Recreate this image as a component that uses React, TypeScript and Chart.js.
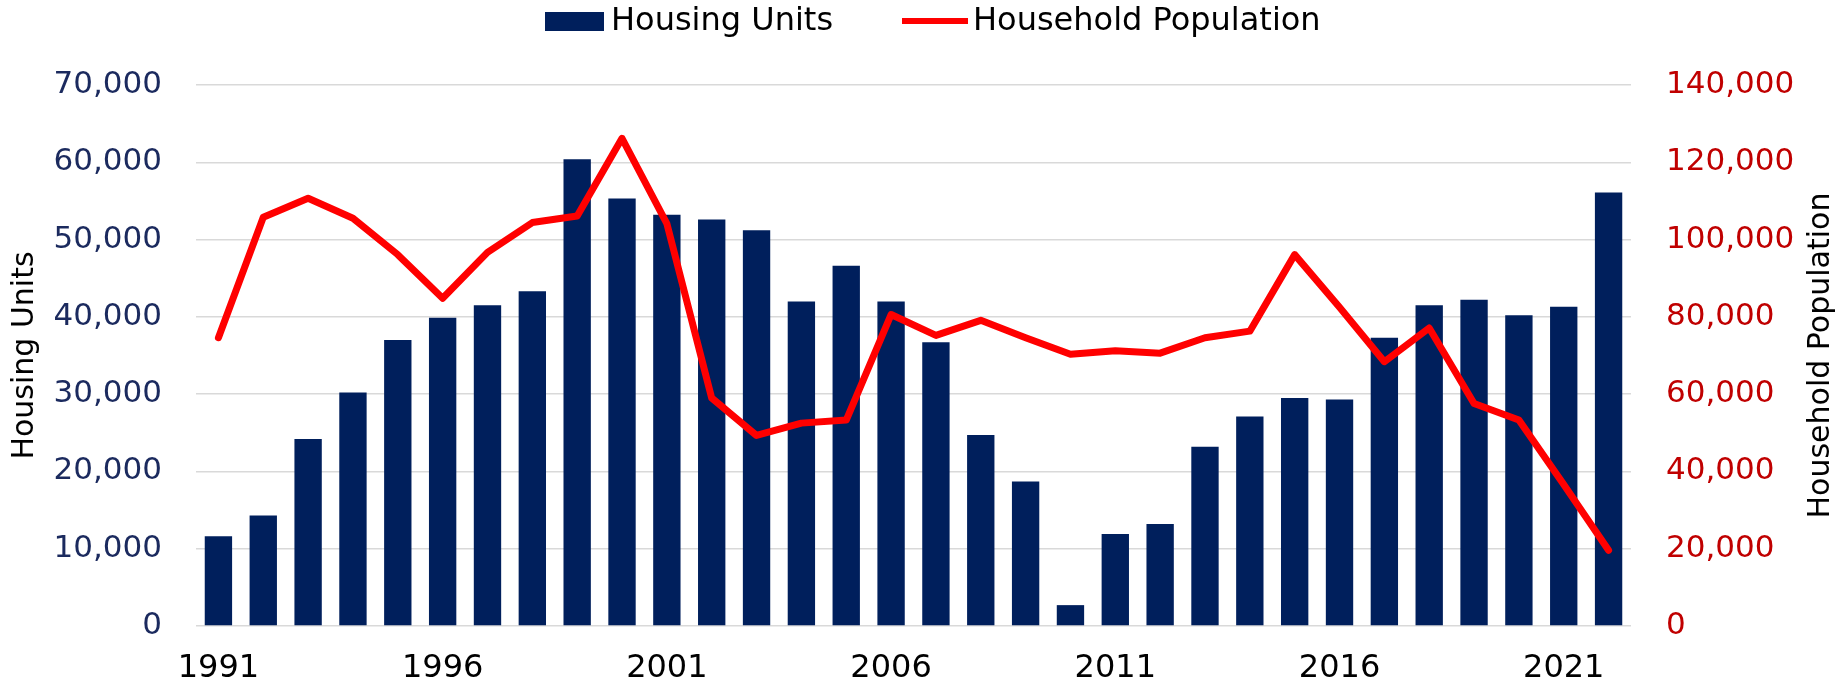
import React, { useEffect, useRef } from 'react';
import { Chart, registerables } from 'chart.js';

Chart.register(...registerables);

const years = [
  '1991', '1992', '1993', '1994', '1995', '1996', '1997', '1998', '1999', '2000',
  '2001', '2002', '2003', '2004', '2005', '2006', '2007', '2008', '2009', '2010',
  '2011', '2012', '2013', '2014', '2015', '2016', '2017', '2018', '2019', '2020',
  '2021', '2022',
];

const housingUnits = [
  11600, 14300, 24200, 30200, 37000, 39900, 41500, 43300, 60400, 55300,
  53200, 52600, 51200, 42000, 46600, 42000, 36700, 24700, 18700, 2700,
  11900, 13200, 23200, 27100, 29500, 29300, 37300, 41500, 42200, 40200,
  41300, 56100,
];

const householdPopulation = [
  74600, 105800, 110700, 105500, 96100, 84800, 96700, 104400, 106100, 126200,
  104100, 59000, 49300, 52500, 53300, 80600, 75200, 79100, 74600, 70300,
  71200, 70600, 74600, 76300, 96100, 82500, 68400, 77100, 57600, 53300,
  36600, 19600,
];

const xTickLabels = ['1991', '1996', '2001', '2006', '2011', '2016', '2021'];

const seriesNames = ['Housing Units', 'Household Population'];
const axisTitles = ['Housing Units', 'Household Population'];

const NAVY = '#001f5c';
const RED = '#ff0000';
const TICK_NAVY = '#1b2a5e';
const TICK_RED = '#c00000';
const FONT = "'DejaVu Sans', Verdana, sans-serif";

const fmt = (v: number) => Number(v).toLocaleString('en-US');

const customPlugin = {
  id: 'customLegendTitle',
  afterDraw(chart: any) {
    const ctx = chart.ctx as CanvasRenderingContext2D;
    const area = chart.chartArea;
    ctx.save();
    // legend
    ctx.font = `32px ${FONT}`;
    ctx.textBaseline = 'middle';
    ctx.textAlign = 'left';
    const ly = 22;
    ctx.fillStyle = NAVY;
    ctx.fillRect(545, 12, 59, 19);
    ctx.fillStyle = '#000000';
    ctx.fillText(seriesNames[0], 611, ly);
    ctx.strokeStyle = RED;
    ctx.lineWidth = 6;
    ctx.beginPath();
    ctx.moveTo(902, 21);
    ctx.lineTo(968, 21);
    ctx.stroke();
    ctx.fillText(seriesNames[1], 973, ly);
    // right axis title
    ctx.font = `30px ${FONT}`;
    ctx.textAlign = 'center';
    ctx.translate(1821, (area.top + area.bottom) / 2);
    ctx.rotate(-Math.PI / 2);
    ctx.fillText(axisTitles[1], 0, 0);
    ctx.restore();
  },
};

export default function App() {
  const ref = useRef<HTMLCanvasElement | null>(null);

  useEffect(() => {
    if (!ref.current) return;
    const chart = new Chart(ref.current, {
      type: 'bar',
      data: {
        labels: years,
        datasets: [
          {
            type: 'line',
            label: seriesNames[1],
            data: householdPopulation,
            yAxisID: 'y1',
            borderColor: RED,
            backgroundColor: RED,
            borderWidth: 7,
            pointRadius: 0,
            tension: 0,
            order: 0,
            borderJoinStyle: 'round',
            borderCapStyle: 'round',
          } as any,
          {
            type: 'bar',
            label: seriesNames[0],
            data: housingUnits,
            yAxisID: 'y',
            backgroundColor: NAVY,
            borderWidth: 0,
            barPercentage: 0.61,
            categoryPercentage: 1,
            order: 1,
          } as any,
        ],
      },
      options: {
        responsive: false,
        animation: false,
        devicePixelRatio: 1,
        layout: { padding: { top: 85, left: 0, right: 0, bottom: 0 } },
        plugins: {
          legend: { display: false },
          tooltip: { enabled: false },
        },
        scales: {
          x: {
            grid: { display: false, drawTicks: false },
            border: { display: false },
            ticks: {
              autoSkip: false,
              maxRotation: 0,
              padding: 23,
              color: '#000000',
              font: { family: FONT, size: 32 },
              callback: function (this: any, value: any) {
                const lab = years[value as number];
                return xTickLabels.includes(lab) ? lab : '';
              },
            },
            afterFit: (scale: any) => {
              scale.height = 61;
            },
          },
          y: {
            position: 'left',
            min: 0,
            max: 70000,
            grid: { color: '#d9d9d9', lineWidth: 1.5, drawTicks: false },
            border: { display: false },
            ticks: {
              stepSize: 10000,
              padding: 34,
              color: TICK_NAVY,
              font: { family: FONT, size: 31 },
              callback: (v: any) => fmt(v),
            },
            title: {
              display: true,
              text: axisTitles[0],
              color: '#000000',
              font: { family: FONT, size: 30 },
              padding: { top: 7, bottom: 0 },
            },
            afterFit: (scale: any) => {
              scale.width = 196;
            },
          },
          y1: {
            position: 'right',
            min: 0,
            max: 140000,
            grid: { display: false, drawTicks: false },
            border: { display: false },
            ticks: {
              stepSize: 20000,
              padding: 35,
              color: TICK_RED,
              font: { family: FONT, size: 31 },
              callback: (v: any) => fmt(v),
            },
            afterFit: (scale: any) => {
              scale.width = 214;
            },
          },
        },
      },
      plugins: [customPlugin],
    });
    return () => chart.destroy();
  }, []);

  return (
    <div style={{ position: 'fixed', left: 0, top: 0, width: 1845, height: 687, background: '#ffffff' }}>
      <canvas ref={ref} width={1845} height={687} style={{ width: 1845, height: 687, display: 'block' }} />
    </div>
  );
}
